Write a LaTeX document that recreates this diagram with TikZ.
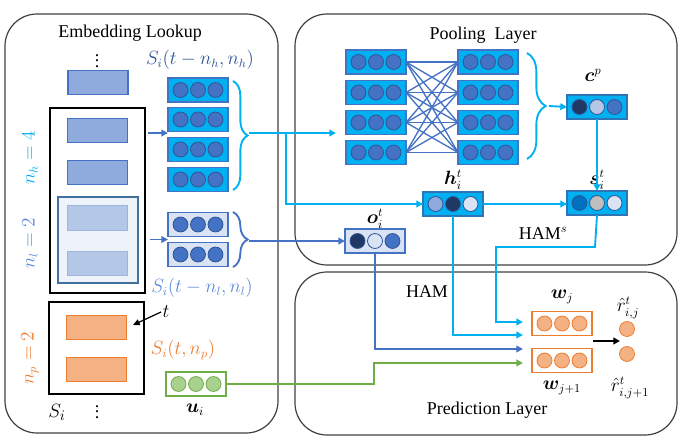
\documentclass[tikz,border=0pt]{standalone}
\usepackage{amsmath,bm}
\usepackage{fontspec}
\setmainfont{Liberation Serif}
\usetikzlibrary{arrows.meta,calc,decorations.pathreplacing}
\definecolor{cy}{HTML}{00B0F0}
\definecolor{bl}{HTML}{4472C4}
\definecolor{dbl}{HTML}{2F5597}
\definecolor{boxbl}{HTML}{2E75B6}
\definecolor{navy}{HTML}{1F3864}
\definecolor{lightb}{HTML}{DAE3F3}
\definecolor{midb}{HTML}{8FAADC}
\definecolor{paleb}{HTML}{B4C7E7}
\definecolor{palebd}{HTML}{9DB4DC}
\definecolor{nlbox}{HTML}{EEF3FA}
\definecolor{nlboxd}{HTML}{41719C}
\definecolor{nlc}{HTML}{5B8BD8}
\definecolor{orb}{HTML}{ED7D31}
\definecolor{orf}{HTML}{F4B183}
\definecolor{grb}{HTML}{70AD47}
\definecolor{grf}{HTML}{A9D18E}
\definecolor{sblue}{HTML}{0070C0}
\definecolor{grey}{HTML}{BFBFBF}
\definecolor{panelc}{HTML}{404040}
\tikzset{
  panel/.style={draw=panelc, line width=0.9pt, rounded corners=24pt},
  vbox/.style={line width=0.8pt, minimum width=45pt, minimum height=18pt, inner sep=0pt, outer sep=0pt},
  dot/.style={circle, line width=0.6pt, minimum size=11.2pt, inner sep=0pt},
  rect/.style={line width=0.8pt, minimum width=45pt, minimum height=18.5pt, inner sep=0pt},
  lbl/.style={font=\fontsize{13.5}{16}\selectfont, inner sep=1pt},
  conn/.style={line width=1.4pt, -{Triangle[length=5pt,width=5pt]}},
  plain/.style={line width=1.4pt},
  cross/.style={bl, line width=1pt},
  brc/.style={line width=1.4pt, decorate, decoration={brace, amplitude=#1}},
}
\newcommand\vecbox[8]{%
  \node[vbox, fill=#3, draw=#4] (#1) at (#2) {};
  \node[dot, draw=#5, fill=#6] (#1-1) at ($(#1)+(-17.5,0)$) {};
  \node[dot, draw=#5, fill=#7] (#1-2) at (#1) {};
  \node[dot, draw=#5, fill=#8] (#1-3) at ($(#1)+(17.5,0)$) {};
}
\begin{document}
\begin{tikzpicture}[x=0.75pt, y=-0.75pt]
\useasboundingbox (0,0) rectangle (684,443);
% panels
\node[panel, minimum width=204.75pt, minimum height=314.25pt, inner sep=0pt] (emb) at (141.5,223.5) {};
\node[panel, minimum width=286.5pt, minimum height=188.25pt, inner sep=0pt] (pool) at (486,139.5) {};
\node[panel, minimum width=286.5pt, minimum height=122.25pt, inner sep=0pt] (pred) at (486,353.5) {};
\node[lbl] (embt) at (130,33) {Embedding Lookup};
\node[lbl] (poolt) at (483,35) {Pooling\enspace Layer};
\node[lbl] (predt) at (487,410) {Prediction Layer};

% embedding lookup column
\node[lbl] (dots1) at (97,57) {$\vdots$};
\node[lbl] (dots2) at (97,408) {$\vdots$};
\node[rect, fill=midb, draw=bl] (e0) at (98,82.5) {};
\node[draw=black, line width=0.8pt, minimum width=71.25pt, minimum height=138.75pt, inner sep=0pt] (hbox) at (97.5,200.5) {};
\node[rect, fill=midb, draw=bl] (e1) at (97.5,130.5) {};
\node[rect, fill=midb, draw=bl] (e2) at (97.5,172.5) {};
\node[draw=nlboxd, fill=nlbox, line width=0.8pt, minimum width=60pt, minimum height=64.5pt, inner sep=0pt] (lbox) at (98,240) {};
\node[rect, fill=paleb, draw=palebd] (e3) at (97.5,218) {};
\node[rect, fill=paleb, draw=palebd] (e4) at (97.5,263.5) {};
\node[draw=black, line width=0.8pt, minimum width=71.25pt, minimum height=69pt, inner sep=0pt] (pbox) at (96.5,348) {};
\node[rect, fill=orf, draw=orb] (e5) at (96.5,327.5) {};
\node[rect, fill=orf, draw=orb] (e6) at (96.5,369.5) {};
\node[lbl, font=\fontsize{15}{18}\selectfont] (si) at (57,412) {$S_i$};
\node[lbl] (tl) at (166,312) {$t$};
\coordinate (tend) at (133,325);
\draw[line width=0.9pt, -{Triangle[length=5pt,width=4.5pt]}] (tl.west) -- (tend);

\node[lbl, rotate=90, text=cy] (nh) at (30,158) {$n_h = 4$};
\node[lbl, rotate=90, text=nlc] (nl) at (30,243) {$n_l = 2$};
\node[lbl, rotate=90, text=orb] (np) at (30,358) {$n_p = 2$};

% S_i(t-n_h) vectors
\node[lbl, text=dbl] (shl) at (200,60) {$S_i(t-n_h,n_h)$};
\vecbox{h1}{198,90}{cy}{bl}{dbl}{bl}{bl}{bl}
\vecbox{h2}{198,119.5}{cy}{bl}{dbl}{bl}{bl}{bl}
\vecbox{h3}{198,149.5}{cy}{bl}{dbl}{bl}{bl}{bl}
\vecbox{h4}{198,179.5}{cy}{bl}{dbl}{bl}{bl}{bl}
\coordinate (ha) at (148,133);
\draw[conn, bl] (ha) -- (h2.south west |- ha);
\draw[brc=11pt, cy] (233,81) -- (233,190);
% S_i(t-n_l) vectors
\vecbox{l1}{198,224.5}{lightb}{bl}{dbl}{bl}{bl}{bl}
\vecbox{l2}{198,254.5}{lightb}{bl}{dbl}{bl}{bl}{bl}
\coordinate (la) at (150,239.5);
\draw[conn, bl] (la) -- (l1.south west |- la);
\draw[brc=11pt, bl] (233,212) -- (233,267);
\node[lbl, text=nlc] (sll) at (202,288) {$S_i(t-n_l,n_l)$};
\node[lbl, text=orb] (spl) at (183,350) {$S_i(t,n_p)$};
% u_i
\vecbox{u}{196,384}{white}{grb}{grb}{grf}{grf}{grf}
\node[lbl] (ul) at (195,410) {$\bm{u}_i$};

% pooling layer
\foreach \i/\y in {1/62,2/92.5,3/122.5,4/152.5}{
  \vecbox{pl\i}{376,\y}{cy}{bl}{dbl}{bl}{bl}{bl}
  \vecbox{pr\i}{488,\y}{cy}{bl}{dbl}{bl}{bl}{bl}
}
\foreach \a in {1,...,4}{\foreach \b in {1,...,4}{\draw[cross] (pl\a.east) -- (pr\b.west);}}
\draw[brc=14pt, cy] (527,53) -- (527,159);
\vecbox{cp}{597,107}{cy}{boxbl}{dbl}{navy}{paleb}{bl}
\node[lbl] (cpl) at (593,75) {$\bm{c}^p$};
\coordinate (pbt) at (549,106);
\draw[conn, cy] (pbt) -- (cp.west);
\vecbox{s}{597,203}{cy}{boxbl}{dbl}{sblue}{grey}{lightb}
\node[lbl] (sl) at (597,180) {$\bm{s}_i^t$};
\draw[conn, cy] (cp.south) -- (s.north);
\vecbox{hh}{453,204}{cy}{boxbl}{dbl}{midb}{navy}{lightb}
\node[lbl] (hl) at (453,180) {$\bm{h}_i^t$};
\draw[conn, cy] (hh.east) -- (s.west |- hh.east);
\vecbox{o}{375,241}{lightb}{bl}{dbl}{navy}{lightb}{bl}
\node[lbl] (ol) at (375,219) {$\bm{o}_i^t$};

% connections from embedding to pooling
\coordinate (hbt) at (249,133);
\coordinate (poolin) at (336,133);
\draw[conn, cy] (hbt) -- (poolin);
\coordinate (br) at (286,133);
\draw[conn, cy] (br) |- (hh.west);
\coordinate (lbt) at (249,241);
\draw[conn, bl] (lbt) -- (o.west);

% prediction layer
\vecbox{wj}{562,323.5}{white}{orb}{orb}{orf}{orf}{orf}
\vecbox{wk}{562,360.5}{white}{orb}{orb}{orf}{orf}{orf}
\node[lbl] (wjl) at (562,297) {$\bm{w}_j$};
\node[lbl] (wkl) at (562,388) {$\bm{w}_{j+1}$};
\node[dot, draw=orb, fill=orf] (r1) at (627,329) {};
\node[dot, draw=orb, fill=orf] (r2) at (627,354) {};
\node[lbl] (r1l) at (628,308) {$\hat{r}_{i,j}^{t}$};
\node[lbl] (r2l) at (630,388) {$\hat{r}_{i,j+1}^{t}$};
\coordinate (ba) at (593,341);
\coordinate (bb) at (620,341);
\draw[line width=1.4pt, -{Triangle[length=5pt,width=5pt]}] (ba) -- (bb);

\coordinate (q1) at (523,322);
\coordinate (q2) at (523,335);
\coordinate (q3) at (523,349);
\coordinate (q4) at (523,363);
\draw[conn, cy] (s.south) -- (595,247) -| (496,322) -- (q1);
\draw[conn, cy] (hh.south) |- (q2);
\draw[conn, bl] (o.south) |- (q3);
\draw[conn, grb] (u.east) -- (374,384) |- (q4);
\node[lbl] (hams) at (543,233) {HAM$^s$};
\node[lbl] (ham) at (427,292) {HAM};
\end{tikzpicture}
\end{document}
